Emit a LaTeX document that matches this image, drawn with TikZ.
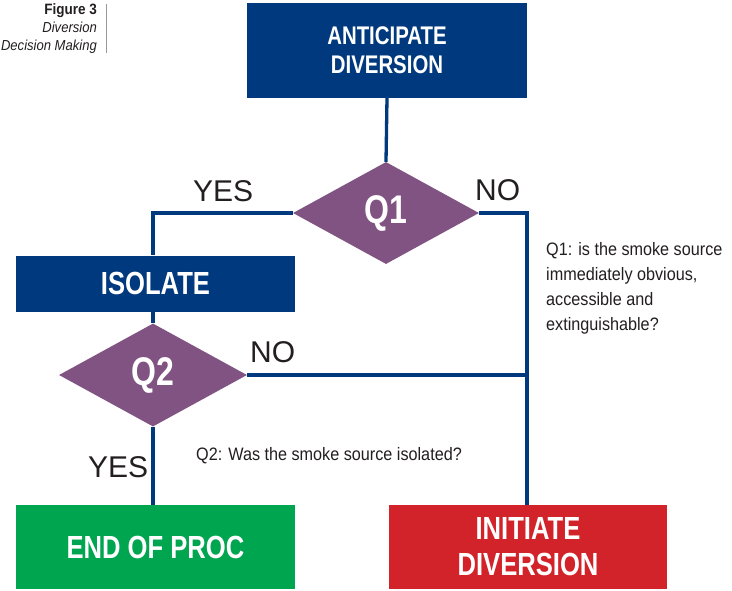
\documentclass[tikz,border=0pt]{standalone}
\usepackage{fontspec}
\usetikzlibrary{shapes.geometric}
\setmainfont{Liberation Sans}
\newfontfamily\condf[FakeStretch=0.8]{Liberation Sans}
\newfontfamily\narf[FakeStretch=0.9]{Liberation Sans}
\definecolor{navy}{RGB}{0,57,125}
\definecolor{qpurple}{RGB}{128,83,130}
\definecolor{endgreen}{RGB}{0,165,80}
\definecolor{initred}{RGB}{210,35,42}
\definecolor{ink}{RGB}{35,31,32}
\tikzset{
  boxnode/.style={rectangle, inner sep=0pt, text=white, align=center, font=\condf\bfseries\fontsize{32}{36}\selectfont},
  qnode/.style={diamond, fill=qpurple, inner sep=0pt, text=white, font=\condf\bfseries\fontsize{40}{44}\selectfont},
  conn/.style={draw=navy, line width=3.3pt},
  yn/.style={anchor=base west, inner sep=0pt, text=ink, font=\fontsize{30}{34}\selectfont},
  desc/.style={anchor=base west, inner sep=0pt, text=ink, align=left, font=\narf\fontsize{18}{25}\selectfont},
  capt/.style={anchor=base east, inner sep=0pt, text=ink}
}
\begin{document}
\begin{tikzpicture}[x=1pt,y=-1pt]
\useasboundingbox[fill=white] (0,0) rectangle (732,590);
% nodes
\node[boxnode, fill=navy, minimum width=280, minimum height=95, font=\condf\bfseries\fontsize{25.5}{29}\selectfont] (antic) at (387,50.5) {ANTICIPATE\\DIVERSION};
\node[qnode, minimum width=186, minimum height=102, aspect=1.82] (q1) at (386,213) {Q1};
\node[boxnode, fill=navy, minimum width=279, minimum height=56] (iso) at (155.5,283.5) {ISOLATE};
\node[qnode, minimum width=188, minimum height=103, aspect=1.82] (q2) at (153,375) {Q2};
\node[boxnode, fill=endgreen, minimum width=279, minimum height=84] (endp) at (155.5,547) {END OF PROC};
\node[boxnode, fill=initred, minimum width=278, minimum height=84] (init) at (528,547) {INITIATE\\DIVERSION};
% connectors
\draw[conn] (antic.south) -- (q1.north);
\draw[conn] (q1.west) -| (iso.north -| q2.north);
\draw[conn] (iso.south -| q2.north) -- (q2.north);
\draw[conn] (q2.south) -- (endp.north -| q2.south);
\draw[conn] (q1.east) -| (init.north -| 527,0);
\draw[conn] (q2.east) -- (q2.east -| 527,0);
% labels
\node[yn] (yes1) at (193,201) {YES};
\node[yn] (no1) at (475,200) {NO};
\node[yn] (no2) at (250,362) {NO};
\node[yn] (yes2) at (88,477) {YES};
\node[desc] (q1txt) at (546,330) {Q1: is the smoke source\\immediately obvious,\\accessible and\\extinguishable?};
\node[desc] (q2txt) at (196,460) {Q2: Was the smoke source isolated?};
% caption
\node[capt, font=\narf\bfseries\fontsize{15}{18}\selectfont] (fig) at (97,14) {Figure 3};
\node[capt, font=\narf\itshape\fontsize{14.5}{18}\selectfont] (cap1) at (97,32) {Diversion};
\node[capt, font=\narf\itshape\fontsize{14.5}{18}\selectfont] (cap2) at (97,50) {Decision Making};
\coordinate (bt) at (106,4);
\coordinate (bb) at (106,53);
\draw[black!40, line width=0.8pt] (bt) -- (bb);
\end{tikzpicture}
\end{document}
